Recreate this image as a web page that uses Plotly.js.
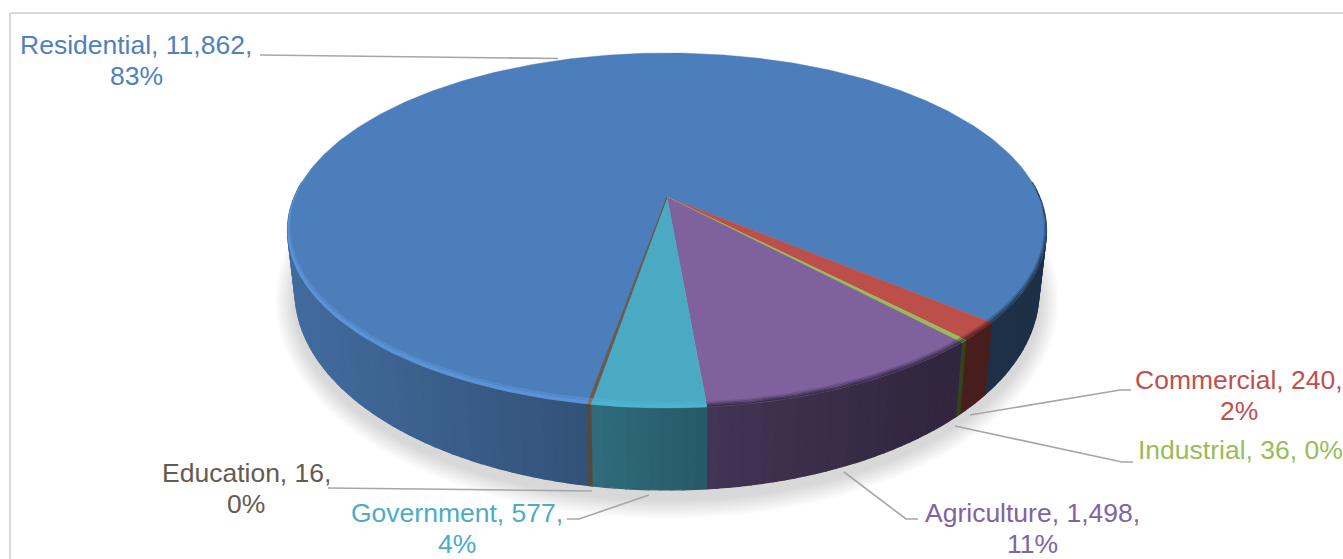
<!DOCTYPE html>
<html>
<head>
<meta charset="utf-8">
<script src="https://cdn.plot.ly/plotly-3.0.1.min.js"></script>
<style>html,body{margin:0;padding:0;background:#fff;overflow:hidden}</style>
</head>
<body>
<div id="chart" style="width:1343px;height:559px"></div>
<script>
// ---- chart data ----
var categories = ["Residential", "Commercial", "Industrial", "Agriculture", "Government", "Education"];
var values = [11862, 240, 36, 1498, 577, 16];
var twoLines = [true, true, false, true, true, true];

// ---- styles ----
var topColors = ["#4d7ebc", "#bd4f4b", "#9bbb59", "#7f619e", "#4aaac4", "#6a5a4d"];
var baseRGB = [[79,129,189],[192,80,77],[140,175,75],[128,100,162],[75,172,198],[140,115,95]];
var rimGain = [1.14, 1.1, 1.1, 1.1, 1.04, 1.0];
var labelColors = ["#4f81bd", "#c0504d", "#9bbb59", "#8064a2", "#4bacc6", "#675a4f"];
var labelCenters = [[136,60],[1239,395],[1240,450],[1032,528],[457,528],[246,488]];
var leaderPaths = [
  "M260,55 L558,58.5",
  "M1131,390 L1120,390 L970,415",
  "M1133,462 L1122,462 L955,426",
  "M918,519 L906,519 L844,472",
  "M567,519 L579,519 L649,495",
  "M328,488 L592,491"
];

// ---- projection of the tilted disc ----
var cx = 667, R = 372.7, pc = 0.1887, pa = -134, pb = 197, startAngle = 190;
function topPt(deg, r) {
  var t = deg * Math.PI / 180, X = r * Math.sin(t), Y = r * Math.cos(t), w = 1 + pc * Y;
  return [cx + R * X / w, (pa * Y + pb) / w];
}
function botPt(deg) {
  var p = topPt(deg, 1);
  return [cx + (p[0] - cx) * 0.98, 1.116 * p[1] + 34.7];
}
function mul(c, k) { return "rgb(" + c.map(function (v) { return Math.round(Math.min(255, v * k)); }).join(",") + ")"; }
function shadeAt(x) {
  var xs = [297, 590, 706, 940, 1045], ks = [0.83, 0.63, 0.52, 0.38, 0.37];
  if (x <= xs[0]) return ks[0];
  for (var i = 1; i < xs.length; i++) if (x <= xs[i]) return ks[i-1] + (ks[i]-ks[i-1]) * (x-xs[i-1]) / (xs[i]-xs[i-1]);
  return ks[ks.length-1];
}
function poly(pts, color, lw) {
  var xs = pts.map(function (p) { return p[0]; }), ys = pts.map(function (p) { return p[1]; });
  xs.push(xs[0]); ys.push(ys[0]);
  return { type: "scatter", mode: "lines", x: xs, y: ys, fill: "toself", fillcolor: color,
           line: { color: lw ? color : "rgba(0,0,0,0)", width: lw || 0 }, hoverinfo: "skip", showlegend: false };
}

var total = values.reduce(function (a, b) { return a + b; }, 0);
var spans = [], acc = startAngle;
values.forEach(function (v) { var d = v / total * 360; spans.push([acc, acc + d]); acc += d; });

var traces = [];

// soft shadow
for (var g = 20; g >= 1; g -= 1.5) {
  var sh = [];
  for (var d0 = 0; d0 < 360; d0 += 3) {
    var b = botPt(d0);
    sh.push([cx + (b[0] - cx) * (1 + g / 371), 300 + (b[1] - 294) * (1 + g / 196) + 3]);
  }
  traces.push(poly(sh, "rgba(0,0,0,0.012)", 0));
}

// side wall, in narrow strips, shaded across the width
spans.forEach(function (s, i) {
  for (var turn = 0; turn <= 360; turn += 360) {
    var a0 = Math.max(s[0], 85 + turn), a1 = Math.min(s[1], 275 + turn);
    if (a1 <= a0) continue;
    var n = Math.max(1, Math.ceil((a1 - a0) / 1.5));
    for (var k = 0; k < n; k++) {
      var u = a0 + (a1 - a0) * k / n, v = a0 + (a1 - a0) * (k + 1) / n, m = (u + v) / 2;
      var col = mul(baseRGB[i], shadeAt(topPt(m, 1)[0]));
      traces.push(poly([topPt(u,1), topPt(v,1), botPt(v), botPt(u)], col, 1.2));
    }
  }
});

// top face: largest slice first so the slivers stay on top
spans.forEach(function (s, i) {
  var pts = [[cx, pb]], n = Math.max(2, Math.ceil(s[1] - s[0]));
  for (var k = 0; k <= n; k++) pts.push(topPt(s[0] + (s[1] - s[0]) * k / n, 1));
  traces.push(poly(pts, topColors[i], (values[i] / total < 0.01) ? 1 : 0.4));
});

// bevel along the near rim
function ring(a0, a1, r0, r1, color) {
  var outer = [], inner = [], n = Math.max(2, Math.ceil((a1 - a0) / 1.5));
  for (var k = 0; k <= n; k++) {
    var t = a0 + (a1 - a0) * k / n, w = 0.15 + 0.85 * Math.max(0, -Math.cos(t * Math.PI / 180));
    outer.push(topPt(t, 1 - r0 * w));
    inner.unshift(topPt(t, 1 - r1 * w));
  }
  traces.push(poly(outer.concat(inner), color, 0));
}
var darkRings = [[0.021, 0.016, 0.86], [0.016, 0.011, 0.72], [0.011, 0.006, 0.58], [0.006, 0, 0.46]];
spans.forEach(function (s, i) {
  for (var turn = 0; turn <= 360; turn += 360) {
    var a0 = Math.max(s[0], 85 + turn), a1 = Math.min(s[1], 280 + turn);
    if (a1 <= a0) continue;
    var mid = topPt((a0 + a1) / 2, 1)[0];
    if (mid > 706) {
      darkRings.forEach(function (d) { ring(a0, a1, d[1], d[0], mul(baseRGB[i], d[2])); });
    } else {
      ring(a0, a1, 0.014, 0.024, mul(baseRGB[i], 1 + (rimGain[i] - 1) * 0.5));
      ring(a0, a1, 0, 0.014, mul(baseRGB[i], rimGain[i]));
    }
  }
});

// labels: each line is its own annotation so the line spacing can match
var annotations = [];
var lineGap = 31;
categories.forEach(function (c, i) {
  var pct = Math.round(values[i] / total * 100) + "%";
  var head = c + ", " + values[i].toLocaleString("en-US") + ",";
  var lines = twoLines[i] ? [head, pct] : [head + " " + pct];
  lines.forEach(function (t, j) {
    annotations.push({ x: labelCenters[i][0], y: labelCenters[i][1] + (j - (lines.length - 1) / 2) * lineGap,
      xref: "x", yref: "y", showarrow: false, xanchor: "center", yanchor: "middle", align: "center", text: t,
      font: { family: "Liberation Sans, Arial, sans-serif", size: 26.5, color: labelColors[i] } });
  });
});

var shapes = leaderPaths.map(function (p) {
  return { type: "path", path: p, xref: "x", yref: "y", line: { color: "#a6a6a6", width: 1.6 } };
});
shapes.push({ type: "line", xref: "x", yref: "y", x0: 10, y0: 13, x1: 1343, y1: 13, line: { color: "#d9d9d9", width: 2 } });
shapes.push({ type: "line", xref: "x", yref: "y", x0: 10, y0: 13, x1: 10, y1: 559, line: { color: "#d9d9d9", width: 2 } });

Plotly.newPlot("chart", traces, {
  width: 1343, height: 559, margin: { l: 0, r: 0, t: 0, b: 0 },
  paper_bgcolor: "#fff", plot_bgcolor: "#fff", showlegend: false,
  xaxis: { range: [0, 1343], visible: false, fixedrange: true },
  yaxis: { range: [559, 0], visible: false, fixedrange: true },
  annotations: annotations, shapes: shapes
}, { displayModeBar: false, staticPlot: true });
</script>
</body>
</html>
